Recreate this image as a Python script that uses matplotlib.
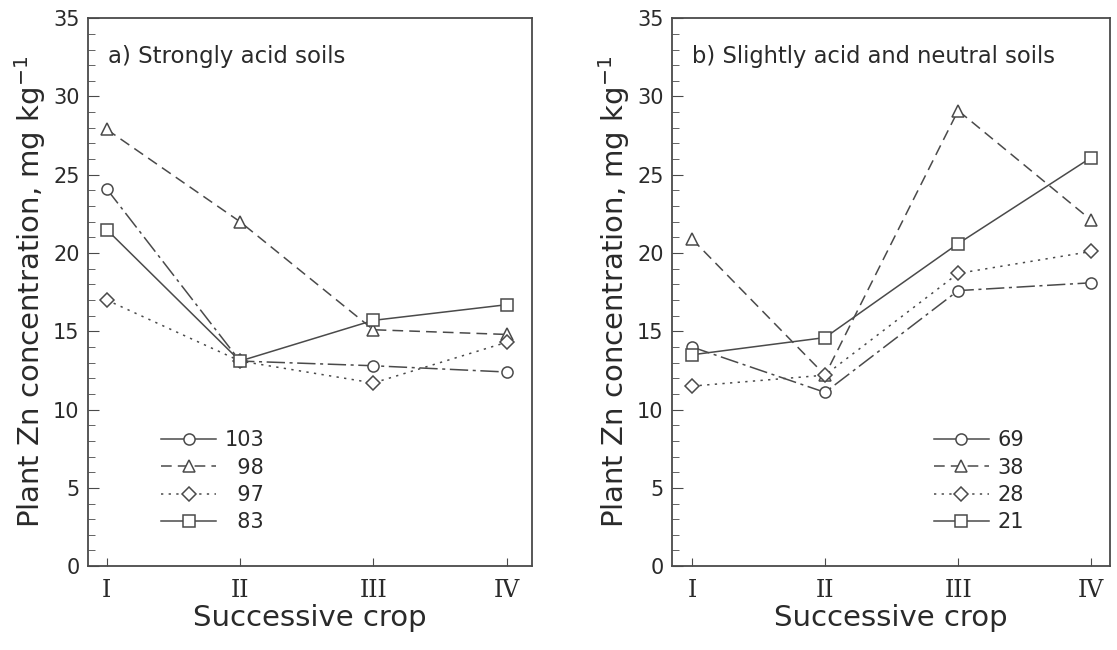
import matplotlib.pyplot as plt
from matplotlib.lines import Line2D
from matplotlib.ticker import MultipleLocator

# data
crops = [1, 2, 3, 4]
crop_labels = ["I", "II", "III", "IV"]

acid_names = ["103", "\u200798", "\u200797", "\u200783"]
acid_103 = [24.1, 13.1, 12.8, 12.4]
acid_98 = [27.9, 22.0, 15.1, 14.8]
acid_97 = [17.0, 13.1, 11.7, 14.3]
acid_83 = [21.5, 13.1, 15.7, 16.7]

neutral_names = ["69", "38", "28", "21"]
neutral_69 = [14.0, 11.1, 17.6, 18.1]
neutral_38 = [20.9, 12.2, 29.1, 22.1]
neutral_28 = [11.5, 12.2, 18.7, 20.1]
neutral_21 = [13.5, 14.6, 20.6, 26.1]

col = "#4a4a4a"
txt = "#2a2a2a"
plt.rcParams['font.family'] = ['DejaVu Sans']

# marker, line style in plot, line style in legend
styles = [
    ("o", (0, (12, 3, 2, 3)), "-"),
    ("^", (0, (7, 4)), (0, (7, 4))),
    ("D", (0, (1.5, 3.5)), (0, (1.5, 3.5))),
    ("s", "-", "-"),
]

fig = plt.figure(figsize=(11.17, 6.5), dpi=100)
ax1 = fig.add_axes([0.0788, 0.129, 0.3975, 0.843])
ax2 = fig.add_axes([0.6016, 0.129, 0.392, 0.843])


def draw(ax, series, names, title, title_size, xlim, legend_anchor):
    handles = []
    for vals, name, (m, ls, lls) in zip(series, names, styles):
        ms = 8 if m != "D" else 7.5
        ax.plot(crops, vals, color=col, lw=1.1, linestyle=ls, marker=m,
                markersize=ms, markerfacecolor="white", markeredgecolor=col,
                markeredgewidth=1.1)
        handles.append(Line2D([0], [0], color=col, lw=1.1, linestyle=lls,
                              marker=m, markersize=ms, markerfacecolor="white",
                              markeredgecolor=col, markeredgewidth=1.1))
    ax.legend(handles, names, loc="upper left", bbox_to_anchor=legend_anchor,
              frameon=False, fontsize=15, handlelength=2.65, handletextpad=0.4,
              labelspacing=0.35, labelcolor=txt)
    ax.set_xlim(*xlim)
    ax.set_ylim(0, 35)
    ax.set_xticks(crops)
    ax.set_xticklabels(crop_labels, family="DejaVu Serif", fontsize=17)
    ax.yaxis.set_major_locator(MultipleLocator(5))
    ax.yaxis.set_minor_locator(MultipleLocator(1))
    ax.tick_params(axis="both", which="both", direction="in", colors=col,
                   labelcolor=txt)
    ax.tick_params(axis="y", which="major", length=8, labelsize=15, pad=6)
    ax.tick_params(axis="y", which="minor", length=5)
    ax.tick_params(axis="x", length=6, pad=9)
    for s in ax.spines.values():
        s.set_color(col)
        s.set_linewidth(1.3)
    ax.set_xlabel("Successive crop", fontsize=21, color=txt, labelpad=2)
    ax.set_ylabel("Plant Zn concentration, mg kg$^{-1}$", fontsize=21,
                  color=txt, labelpad=4)
    ax.text(0.045, 0.93, title, transform=ax.transAxes, fontsize=title_size,
            color=txt, va="center")


draw(ax1, [acid_103, acid_98, acid_97, acid_83], acid_names,
     "a) Strongly acid soils", 16.5, (0.86, 4.19), (0.122, 0.282))
draw(ax2, [neutral_69, neutral_38, neutral_28, neutral_21], neutral_names,
     "b) Slightly acid and neutral soils", 16.3, (0.85, 4.14), (0.555, 0.282))

fig.savefig("out.png", dpi=100)
